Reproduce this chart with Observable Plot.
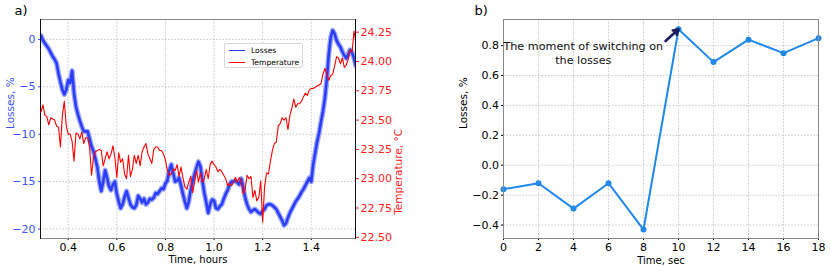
<!DOCTYPE html>
<html><head><meta charset="utf-8">
<script src="https://cdn.jsdelivr.net/npm/d3@7"></script>
<script src="https://cdn.jsdelivr.net/npm/@observablehq/plot@0.6"></script>
<style>
body{margin:0;background:#fff;}
#wrap{position:relative;width:830px;height:266px;font-family:"DejaVu Sans",sans-serif;overflow:hidden;}
#wrap svg{position:absolute;top:0;}
.legend{position:absolute;left:224px;top:43px;width:77px;height:23px;border:1px solid #d8d8d8;border-radius:2px;background:rgba(255,255,255,0.85);font:7.6px "DejaVu Sans",sans-serif;color:#000;}
.legend .row{position:absolute;left:4px;height:10px;line-height:10px;white-space:nowrap;}
.legend .sw{display:inline-block;width:16px;height:0;vertical-align:middle;margin-right:6px;border-top-width:1.4px;border-top-style:solid;}
</style>
</head><body><div id="wrap"></div>
<script>
// ---- Panel a) : losses (%) and temperature (°C) vs time (hours)
const hourTime = [0.288,0.296,0.304,0.312,0.32,0.328,0.336,0.344,0.352,0.36,0.368,0.376,0.384,0.392,0.4,0.408,0.416,0.424,0.432,0.44,0.448,0.456,0.464,0.472,0.48,0.488,0.496,0.504,0.512,0.52,0.528,0.536,0.544,0.552,0.56,0.568,0.576,0.584,0.592,0.6,0.608,0.616,0.624,0.632,0.64,0.648,0.656,0.664,0.672,0.68,0.688,0.696,0.704,0.712,0.72,0.728,0.736,0.744,0.752,0.76,0.768,0.776,0.784,0.792,0.8,0.808,0.816,0.824,0.832,0.84,0.848,0.856,0.864,0.872,0.88,0.888,0.896,0.904,0.912,0.92,0.928,0.936,0.944,0.952,0.96,0.968,0.976,0.984,0.992,1.0,1.008,1.016,1.024,1.032,1.04,1.048,1.056,1.064,1.072,1.08,1.088,1.096,1.104,1.112,1.12,1.128,1.136,1.144,1.152,1.16,1.168,1.176,1.184,1.192,1.2,1.208,1.216,1.224,1.232,1.24,1.248,1.256,1.264,1.272,1.28,1.288,1.296,1.304,1.312,1.32,1.328,1.336,1.344,1.352,1.36,1.368,1.376,1.384,1.392,1.4,1.408,1.416,1.424,1.432,1.44,1.448,1.456,1.464,1.472,1.48,1.488,1.496,1.504,1.512,1.52,1.528,1.536,1.544,1.552,1.56,1.568,1.576,1.584];
const lossesPct = [0.4,-0.1,-0.4,-0.7,-1.0,-1.4,-1.8,-2.1,-2.5,-3.6,
-4.5,-5.3,-5.8,-5.3,-4.3,-4.6,-3.3,-5.7,-7.1,-7.9,
-8.6,-9.2,-9.7,-9.7,-9.7,-10.5,-11.3,-11.8,-12.6,-13.5,
-15.0,-16.0,-15.0,-13.8,-14.6,-15.5,-15.9,-15.3,-15.0,-16.3,
-17.1,-17.8,-17.4,-16.6,-16.0,-16.7,-17.4,-17.7,-17.8,-17.5,
-16.5,-16.8,-17.2,-16.8,-17.4,-17.2,-16.8,-16.9,-16.7,-16.2,
-16.3,-16.0,-15.7,-15.8,-15.2,-14.9,-13.8,-13.2,-14.1,-15.0,
-14.9,-14.6,-15.4,-16.3,-17.1,-17.8,-17.1,-15.9,-14.9,-14.2,
-13.5,-12.9,-13.4,-14.9,-16.2,-17.2,-18.3,-17.4,-16.9,-17.0,
-17.8,-17.9,-17.6,-17.4,-16.8,-16.3,-15.9,-15.3,-15.0,-15.0,
-14.9,-15.1,-15.3,-14.7,-15.6,-16.7,-17.4,-17.9,-18.2,-18.0,
-17.9,-18.1,-18.3,-18.4,-18.1,-17.9,-17.5,-17.4,-17.4,-17.5,
-17.7,-17.9,-18.3,-18.7,-19.1,-19.6,-19.4,-18.8,-18.3,-17.9,
-17.5,-17.1,-16.8,-16.5,-16.1,-15.8,-15.4,-15.0,-14.6,-15.0,
-13.2,-12.0,-10.8,-9.9,-8.7,-7.6,-6.2,-4.2,-1.6,0.2,
0.95,0.6,-0.1,-0.5,-0.8,-1.3,-1.7,-2.0,-1.6,-1.1,
-1.4,-2.0,-2.8];
const temperatureC = [23.57,23.63,23.54,23.53,23.46,23.52,23.51,23.50,23.45,23.44,
23.27,23.54,23.66,23.45,23.38,23.38,23.32,23.15,23.39,23.38,
23.34,23.40,23.30,23.35,23.35,23.27,23.03,23.18,23.23,23.24,
23.25,23.24,23.11,23.17,23.23,23.17,23.21,23.28,23.18,23.01,
23.22,23.14,23.17,23.04,23.00,23.20,23.02,23.08,23.20,23.13,
23.20,23.11,23.23,23.27,23.30,23.21,23.17,23.13,23.25,23.27,
23.27,23.24,23.24,23.21,23.16,23.07,23.03,23.04,23.08,23.07,
23.12,23.02,23.10,23.01,22.93,22.91,22.97,23.02,22.88,22.97,
23.07,22.97,23.05,22.97,23.00,23.08,23.00,23.12,23.15,23.12,
23.10,23.06,23.08,23.06,23.03,23.00,22.94,22.96,22.94,22.97,
23.01,22.97,23.01,22.98,22.87,22.91,23.03,23.00,23.02,22.84,
22.90,22.81,22.84,22.98,22.63,22.93,23.05,23.04,23.15,23.24,
23.30,23.31,23.45,23.47,23.52,23.50,23.52,23.42,23.54,23.60,
23.68,23.61,23.64,23.64,23.66,23.70,23.73,23.71,23.76,23.77,
23.77,23.78,23.79,23.80,23.81,23.89,23.94,23.89,23.84,23.88,
23.89,23.96,24.04,24.03,23.98,24.03,23.95,23.97,24.02,24.10,
24.08,24.26,24.16];
const hourTicks = [0.4,0.6,0.8,1.0,1.2,1.4];
const lossTicks = [0,-5,-10,-15,-20];
const tempTicks = [22.5,22.75,23.0,23.25,23.5,23.75,24.0,24.25];
const seriesNames = ["Losses","Temperature"];

// ---- Panel b) : losses (%) vs time (sec)
const secTime = [0,2,4,6,8,10,12,14,16,18];
const secLosses = [-0.16,-0.12,-0.29,-0.12,-0.43,0.91,0.69,0.84,0.75,0.85];
const secTicks = [0,2,4,6,8,10,12,14,16,18];
const secLossTicks = [-0.4,-0.2,0.0,0.2,0.4,0.6,0.8];
const annotationText = ["The moment of switching on\nthe losses"];
const annotationAt = [4.56, 0.753];     // text centre (data coords)
const arrowFrom = [9.26, 0.831];        // arrow tail (data coords)

const BLUE = "#2a3ef8", BLUE_TXT = "#3a55ff", RED = "#ff0000", RED_TXT = "#ff1a1a", LINE_B = "#2188ec";
const grid = {stroke:"#b8b8b8", strokeDasharray:"1.6,1.6", strokeOpacity:0.9, strokeWidth:0.8};
const baseStyle = {fontFamily:"DejaVu Sans, sans-serif", fontSize:"10px", background:"none", overflow:"visible", color:"#000"};
const TICK_FS = 11;

const lossData = hourTime.map((t,i)=>({t, v: lossesPct[i]}));
const tempData = hourTime.map((t,i)=>({t, v: temperatureC[i]}));
const secData = secTime.map((t,i)=>({t, v: secLosses[i]}));

const dimsA = {width:415, height:266, marginLeft:40, marginRight:60, marginTop:19, marginBottom:28};

const plotLoss = Plot.plot({
  ...dimsA, style: baseStyle,
  x: {domain:[0.286, 1.582]}, y: {domain:[-21, 2.1]},
  marks: [
    Plot.gridX(hourTicks, grid),
    Plot.gridY(lossTicks, grid),
    // noisy band of the measured losses (wide, translucent) + its core
    Plot.line(lossData, {x:"t", y:"v", stroke:BLUE, strokeWidth:5.2, strokeOpacity:0.45, clip:true}),
    Plot.line(lossData, {x:"t", y:"v", stroke:BLUE, strokeWidth:2.6, clip:true}),
    Plot.axisY(lossTicks, {anchor:"left", tickSize:2, tickPadding:3, tickFormat:d3.format("d"), color:BLUE_TXT, fontSize:TICK_FS, label:null}),
    Plot.axisX(hourTicks, {anchor:"bottom", tickSize:2, tickPadding:3, tickFormat:d3.format(".1f"), fontSize:TICK_FS, label:null}),
    Plot.frame({stroke:"#888", strokeWidth:1}),
    Plot.frame({anchor:"left", stroke:"#111", strokeWidth:1}),
    Plot.text(["Losses, %"], {frameAnchor:"left", rotate:-90, dx:-30, fill:BLUE_TXT, fontSize:10.5}),
    Plot.text(["Time, hours"], {frameAnchor:"bottom", lineAnchor:"middle", dy:21, fontSize:10}),
    Plot.text(["a)"], {frameAnchor:"top-left", textAnchor:"start", lineAnchor:"top", dx:-26, dy:-14, fontSize:13})
  ]
});

const plotTemp = Plot.plot({
  ...dimsA, style: baseStyle,
  x: {domain:[0.286, 1.582], axis:null}, y: {domain:[22.49, 24.358], axis:null},
  marks: [
    Plot.line(tempData, {x:"t", y:"v", stroke:RED, strokeWidth:1.1, clip:true}),
    Plot.axisY(tempTicks, {anchor:"right", tickSize:3, tickPadding:2, tickFormat:d3.format(".2f"), color:RED_TXT, fontSize:TICK_FS, label:null}),
    Plot.frame({anchor:"right", stroke:"#111", strokeWidth:1}),
    Plot.text(["Temperature, °C"], {frameAnchor:"right", rotate:-90, dx:43, fill:RED_TXT, fontSize:10.5})
  ]
});

const plotSec = Plot.plot({
  width:410, height:266, marginLeft:83, marginRight:12, marginTop:19, marginBottom:28,
  style: baseStyle,
  x: {domain:[0, 18]}, y: {domain:[-0.49, 0.975]},
  marks: [
    Plot.gridX(secTicks, grid),
    Plot.gridY(secLossTicks, grid),
    Plot.line(secData, {x:"t", y:"v", stroke:LINE_B, strokeWidth:2}),
    Plot.dot(secData, {x:"t", y:"v", r:3, fill:LINE_B}),
    Plot.axisY(secLossTicks, {anchor:"left", tickSize:2, tickPadding:2.5, tickFormat:d3.format(".1f"), fontSize:TICK_FS, label:null}),
    Plot.axisX(secTicks, {anchor:"bottom", tickSize:2, tickPadding:3, tickFormat:d3.format("d"), fontSize:TICK_FS, label:null}),
    Plot.frame({stroke:"#888", strokeWidth:1}),
    Plot.text(annotationText, {x:()=>annotationAt[0], y:()=>annotationAt[1], lineAnchor:"middle", lineHeight:1.2, fontSize:11.2, fill:"#111"}),
    Plot.arrow([0], {x1:()=>arrowFrom[0], y1:()=>arrowFrom[1], x2:()=>secTime[5], y2:()=>secLosses[5], stroke:"#1b1b60", strokeWidth:2.6, headLength:7, insetEnd:0}),
    Plot.text(["Losses, %"], {frameAnchor:"left", rotate:-90, dx:-40, fontSize:10.5}),
    Plot.text(["Time, sec"], {frameAnchor:"bottom", lineAnchor:"middle", dy:22, fontSize:10}),
    Plot.text(["b)"], {frameAnchor:"top-left", textAnchor:"start", lineAnchor:"top", dx:-29, dy:-14, fontSize:13})
  ]
});

const wrap = document.getElementById("wrap");
plotLoss.style.left = "0px";
plotTemp.style.left = "0px";
plotSec.style.left = "420px";
wrap.appendChild(plotLoss);
wrap.appendChild(plotTemp);
wrap.appendChild(plotSec);

const legend = document.createElement("div");
legend.className = "legend";
const legendColors = [BLUE, RED];
seriesNames.forEach((name, i) => {
  const row = document.createElement("div");
  row.className = "row";
  row.style.top = (2 + i * 11.5) + "px";
  const sw = document.createElement("span");
  sw.className = "sw";
  sw.style.borderTopColor = legendColors[i];
  row.appendChild(sw);
  row.appendChild(document.createTextNode(name));
  legend.appendChild(row);
});
wrap.appendChild(legend);
</script>
</body></html>
